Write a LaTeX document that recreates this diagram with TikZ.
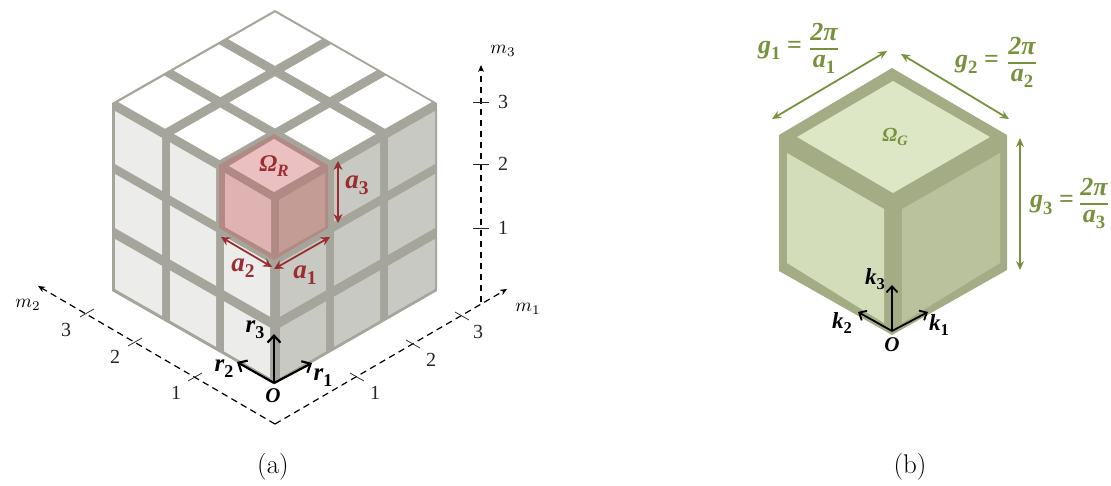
\documentclass[tikz,border=0pt]{standalone}
\usepackage{fontspec}
\usetikzlibrary{arrows.meta}
\newfontfamily\labf{Liberation Serif}
\definecolor{gridgray}{HTML}{A6A59B}
\definecolor{lface}{HTML}{ECECEB}
\definecolor{rface}{HTML}{C9C9C3}
\definecolor{redb}{HTML}{B28A85}
\definecolor{redt}{HTML}{EBC0C0}
\definecolor{redl}{HTML}{DFB3B2}
\definecolor{redr}{HTML}{C49C96}
\definecolor{redink}{HTML}{9B2D30}
\definecolor{grnb}{HTML}{A3AC84}
\definecolor{grnt}{HTML}{DDE6C5}
\definecolor{grnl}{HTML}{D3DDBA}
\definecolor{grnr}{HTML}{B9C29C}
\definecolor{grnink}{HTML}{76923C}
\newcommand\bi{\labf\bfseries\itshape}
\newcommand\lsb[1]{\raisebox{-.24em}{\scalebox{.72}{\upshape #1}}}
\newcommand\lsi[1]{\raisebox{-.24em}{\scalebox{.72}{#1}}}
\newcommand\mlb[1]{\scalebox{1.9}{$m_{#1}$}}
\newcommand\lfrac[2]{{\renewcommand\arraystretch{.92}\setlength\arrayrulewidth{1.3pt}\begin{tabular}{@{}c@{}}#1\\\hline #2\end{tabular}}}
\tikzset{
 lab/.style={inner sep=0pt,font=\fontsize{27}{30}\selectfont\bi},
 blab/.style={inner sep=0pt,font=\fontsize{25}{28}\selectfont\bi,text=black},
 olab/.style={inner sep=0pt,font=\fontsize{21}{24}\selectfont\bi,text=black},
 klab/.style={inner sep=0pt,font=\fontsize{23}{26}\selectfont\bi,text=black},
 glab/.style={inner sep=0pt,font=\fontsize{26}{28}\selectfont\bi,text=grnink},
 num/.style={inner sep=0pt,font=\fontsize{20}{23}\selectfont\labf,text=black!85},
 mlab/.style={inner sep=0pt,font=\normalsize},
 captext/.style={inner sep=0pt,font=\fontsize{27}{30}\selectfont},
 axisline/.style={line width=1.2pt,dash pattern=on 6.5pt off 4.5pt,-{Stealth[length=7pt,width=6pt]}},
 tickline/.style={line width=.7pt,black!85},
 redarrow/.style={redink,line width=1.8pt,{Stealth[length=9pt,width=9pt]}-{Stealth[length=9pt,width=9pt]}},
 grnarrow/.style={grnink,line width=1.8pt,{Stealth[length=9pt,width=8pt]}-{Stealth[length=9pt,width=8pt]}},
 vec/.style={black,line width=2.2pt,-{Straight Barb[length=7pt,width=13pt,line width=2.2pt]}},
 vecs/.style={black,line width=1.8pt,-{Straight Barb[length=6pt,width=11pt,line width=1.8pt]}},
}
\begin{document}
\begin{tikzpicture}[x=1pt,y=-1pt]
\useasboundingbox (0,0) rectangle (1111,485);
% grid cube base
\fill[gridgray] (275,10) -- (437,103) -- (437,291) -- (275,384) -- (112,291) -- (112,103) -- cycle;
% top panels
\foreach \as/\ae in {.04/.9,1.07/1.91,2.08/2.93}
 \foreach \bs/\be in {.04/.9,1.07/1.91,2.08/2.93}
  \fill[white] ({275+54.2*(\as-\bs)},{10+31*(\as+\bs)}) -- ({275+54.2*(\ae-\bs)},{10+31*(\ae+\bs)}) -- ({275+54.2*(\ae-\be)},{10+31*(\ae+\be)}) -- ({275+54.2*(\as-\be)},{10+31*(\as+\be)}) -- cycle;
% side panels
\foreach \xa/\xb in {115/162,170/216,224/270}
 \foreach \ya/\yb in {111/164,174/228,239/289}{
  \fill[lface] (\xa,{\ya+(\xa-115)*.572}) -- (\xb,{\ya+(\xb-115)*.572}) -- (\xb,{\yb+(\xb-115)*.572}) -- (\xa,{\yb+(\xa-115)*.572}) -- cycle;
  \fill[rface] ({550-\xa},{\ya+(\xa-115)*.572}) -- ({550-\xb},{\ya+(\xb-115)*.572}) -- ({550-\xb},{\yb+(\xb-115)*.572}) -- ({550-\xa},{\yb+(\xa-115)*.572}) -- cycle;
 }
% red cell
\fill[redb] (274,134) -- (328,165) -- (328,228) -- (274,260) -- (219,228) -- (219,165) -- cycle;
\fill[redt] (274,139) -- (320,166) -- (274,192) -- (229,166) -- cycle;
\fill[redl] (225,173) -- (271,200) -- (271,253) -- (225,227) -- cycle;
\fill[redr] (279,200) -- (325,173) -- (325,227) -- (279,253) -- cycle;
% axes
\coordinate (orig) at (275,424);
\coordinate (m1end) at (507,289);
\coordinate (m2end) at (38,286);
\coordinate (m3start) at (481,302);
\coordinate (m3end) at (481,65);
\draw[axisline] (orig) -- (m1end);
\draw[axisline] (orig) -- (m2end);
\draw[axisline] (m3start) -- (m3end);
\foreach \n/\x/\y in {a/357/377,b/413/344,c/462/316}{
 \coordinate (t\n1) at ({\x-7},{\y-4}); \coordinate (t\n2) at ({\x+7},{\y+4});
 \draw[tickline] (t\n1) -- (t\n2);}
\foreach \n/\x/\y in {d/87/313,e/135/342,f/195/377}{
 \coordinate (t\n1) at ({\x-7},{\y+4}); \coordinate (t\n2) at ({\x+7},{\y-4});
 \draw[tickline] (t\n1) -- (t\n2);}
\foreach \n/\y in {g/102,h/164,i/228}{
 \coordinate (t\n1) at (473,\y); \coordinate (t\n2) at (489,\y);
 \draw[tickline] (t\n1) -- (t\n2);}
\node[num] (n1a) at (375,393) {1};
\node[num] (n2a) at (431,360) {2};
\node[num] (n3a) at (478,332) {3};
\node[num] (n1b) at (176,393) {1};
\node[num] (n2b) at (115,357) {2};
\node[num] (n3b) at (66,330) {3};
\node[num] (n1c) at (503,228) {1};
\node[num] (n2c) at (503,164) {2};
\node[num] (n3c) at (503,102) {3};
\node[mlab] (m1) at (528,309) {\mlb{1}};
\node[mlab] (m2) at (28,305) {\mlb{2}};
\node[mlab] (m3) at (503,51) {\mlb{3}};
% red dimensions
\coordinate (a3s) at (338,161); \coordinate (a3e) at (338,223);
\coordinate (a1s) at (274,269); \coordinate (a1e) at (330,237);
\coordinate (a2s) at (221,237); \coordinate (a2e) at (272,267);
\draw[redarrow] (a3s) -- (a3e);
\draw[redarrow] (a1s) -- (a1e);
\draw[redarrow] (a2s) -- (a2e);
\node[lab,text=redink] (la3) at (357,185) {a\lsb{3}};
\node[lab,text=redink] (la1) at (305,275) {a\lsb{1}};
\node[lab,text=redink] (la2) at (243,268) {a\lsb{2}};
\node[lab,text=redink,font=\fontsize{24}{27}\selectfont\bi] (omr) at (274,166) {Ω\lsi{R}};
% base vectors left
\coordinate (o1) at (274,383);
\coordinate (r1t) at (312,363);
\coordinate (r2t) at (237,362);
\coordinate (r3t) at (274,334);
\draw[vec] (o1) -- (r1t);
\draw[vec] (o1) -- (r2t);
\draw[vec] (o1) -- (r3t);
\node[blab] (lr3) at (255,330) {r\lsb{3}};
\node[blab] (lr2) at (224,369) {r\lsb{2}};
\node[blab] (lr1) at (323,378) {r\lsb{1}};
\node[olab] (lo1) at (273,396) {O};
\node[captext] (capa) at (273,467) {(a)};
% green cube
\fill[grnb] (892,68) -- (1007,135) -- (1007,270) -- (892,335) -- (779,271) -- (779,135) -- cycle;
\fill[grnt] (893,81) -- (990,137) -- (893,193) -- (797,137) -- cycle;
\fill[grnl] (787,153) -- (884,209) -- (884,323) -- (787,263) -- cycle;
\fill[grnr] (902,209) -- (1000,153) -- (1000,263) -- (902,323) -- cycle;
\coordinate (g1s) at (772,119); \coordinate (g1e) at (887,51);
\coordinate (g2s) at (901,54); \coordinate (g2e) at (1009,119);
\coordinate (g3s) at (1020,138); \coordinate (g3e) at (1020,270);
\draw[grnarrow] (g1s) -- (g1e);
\draw[grnarrow] (g2s) -- (g2e);
\draw[grnarrow] (g3s) -- (g3e);
\node[glab,font=\fontsize{20}{23}\selectfont\bi] (om) at (895,137) {Ω\lsi{G}};
\node[glab] (g1l) at (780,50) {g\lsb{1} \upshape=};
\node[glab] (g1f) at (824,49) {\lfrac{2π}{a\lsb{1}}};
\node[glab] (g2l) at (977,64) {g\lsb{2} \upshape=};
\node[glab] (g2f) at (1022,63) {\lfrac{2π}{a\lsb{2}}};
\node[glab] (g3l) at (1052,205) {g\lsb{3} \upshape=};
\node[glab] (g3f) at (1094,204) {\lfrac{2π}{a\lsb{3}}};
% base vectors right
\coordinate (o2) at (892,331);
\coordinate (k1t) at (928,312);
\coordinate (k2t) at (858,312);
\coordinate (k3t) at (892,285);
\draw[vecs] (o2) -- (k1t);
\draw[vecs] (o2) -- (k2t);
\draw[vecs] (o2) -- (k3t);
\node[klab] (lk3) at (875,279) {k\lsb{3}};
\node[klab] (lk2) at (842,323) {k\lsb{2}};
\node[klab] (lk1) at (939,325) {k\lsb{1}};
\node[olab] (lo2) at (892,345) {O};
\node[captext] (capb) at (910,467) {(b)};
\end{tikzpicture}
\end{document}
